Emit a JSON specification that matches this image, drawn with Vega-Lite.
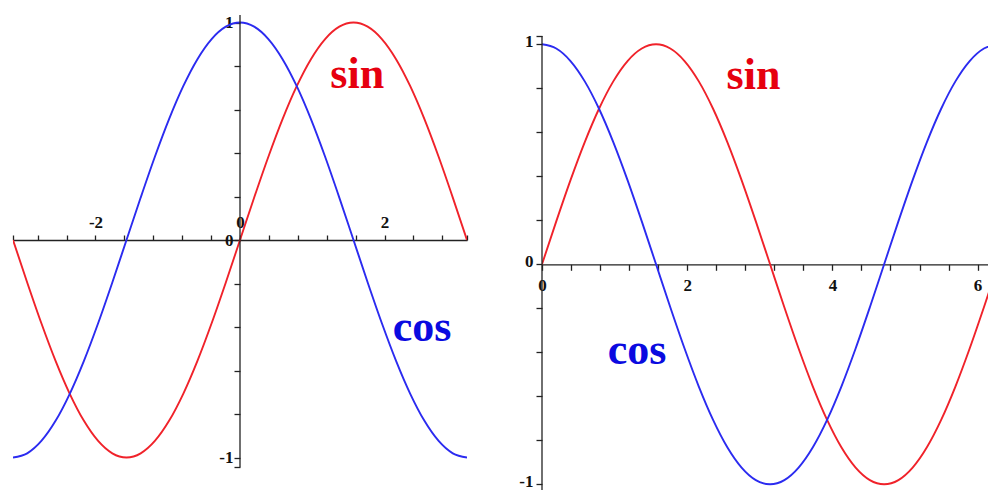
{
  "$schema": "https://vega.github.io/schema/vega-lite/v6.json",
  "background": "white",
  "padding": {"left": 12, "top": 13, "right": 0, "bottom": 0},
  "bounds": "flush",
  "spacing": 75,
  "datasets": {
    "wave": [
      {"x": -3.1416, "sin": 0, "cos": -1},
      {"x": -2.9452, "sin": -0.1951, "cos": -0.9808},
      {"x": -2.7489, "sin": -0.3827, "cos": -0.9239},
      {"x": -2.5525, "sin": -0.5556, "cos": -0.8315},
      {"x": -2.3562, "sin": -0.7071, "cos": -0.7071},
      {"x": -2.1598, "sin": -0.8315, "cos": -0.5556},
      {"x": -1.9635, "sin": -0.9239, "cos": -0.3827},
      {"x": -1.7671, "sin": -0.9808, "cos": -0.1951},
      {"x": -1.5708, "sin": -1, "cos": 0},
      {"x": -1.3744, "sin": -0.9808, "cos": 0.1951},
      {"x": -1.1781, "sin": -0.9239, "cos": 0.3827},
      {"x": -0.9817, "sin": -0.8315, "cos": 0.5556},
      {"x": -0.7854, "sin": -0.7071, "cos": 0.7071},
      {"x": -0.589, "sin": -0.5556, "cos": 0.8315},
      {"x": -0.3927, "sin": -0.3827, "cos": 0.9239},
      {"x": -0.1963, "sin": -0.1951, "cos": 0.9808},
      {"x": 0, "sin": 0, "cos": 1},
      {"x": 0.1963, "sin": 0.1951, "cos": 0.9808},
      {"x": 0.3927, "sin": 0.3827, "cos": 0.9239},
      {"x": 0.589, "sin": 0.5556, "cos": 0.8315},
      {"x": 0.7854, "sin": 0.7071, "cos": 0.7071},
      {"x": 0.9817, "sin": 0.8315, "cos": 0.5556},
      {"x": 1.1781, "sin": 0.9239, "cos": 0.3827},
      {"x": 1.3744, "sin": 0.9808, "cos": 0.1951},
      {"x": 1.5708, "sin": 1, "cos": 0},
      {"x": 1.7671, "sin": 0.9808, "cos": -0.1951},
      {"x": 1.9635, "sin": 0.9239, "cos": -0.3827},
      {"x": 2.1598, "sin": 0.8315, "cos": -0.5556},
      {"x": 2.3562, "sin": 0.7071, "cos": -0.7071},
      {"x": 2.5525, "sin": 0.5556, "cos": -0.8315},
      {"x": 2.7489, "sin": 0.3827, "cos": -0.9239},
      {"x": 2.9452, "sin": 0.1951, "cos": -0.9808},
      {"x": 3.1416, "sin": 0, "cos": -1},
      {"x": 3.3379, "sin": -0.1951, "cos": -0.9808},
      {"x": 3.5343, "sin": -0.3827, "cos": -0.9239},
      {"x": 3.7306, "sin": -0.5556, "cos": -0.8315},
      {"x": 3.927, "sin": -0.7071, "cos": -0.7071},
      {"x": 4.1233, "sin": -0.8315, "cos": -0.5556},
      {"x": 4.3197, "sin": -0.9239, "cos": -0.3827},
      {"x": 4.516, "sin": -0.9808, "cos": -0.1951},
      {"x": 4.7124, "sin": -1, "cos": 0},
      {"x": 4.9087, "sin": -0.9808, "cos": 0.1951},
      {"x": 5.1051, "sin": -0.9239, "cos": 0.3827},
      {"x": 5.3014, "sin": -0.8315, "cos": 0.5556},
      {"x": 5.4978, "sin": -0.7071, "cos": 0.7071},
      {"x": 5.6941, "sin": -0.5556, "cos": 0.8315},
      {"x": 5.8905, "sin": -0.3827, "cos": 0.9239},
      {"x": 6.0868, "sin": -0.1951, "cos": 0.9808},
      {"x": 6.2832, "sin": 0, "cos": 1}
    ],
    "labels": [
      {"panel": "L", "fn": "sin", "x": 1.623, "y": 0.7},
      {"panel": "L", "fn": "cos", "x": 2.519, "y": -0.464},
      {"panel": "R", "fn": "sin", "x": 2.913, "y": 0.797},
      {"panel": "R", "fn": "cos", "x": 1.309, "y": -0.453}
    ]
  },
  "config": {
    "view": {"stroke": null},
    "axis": {
      "labelFont": "Liberation Serif",
      "labelFontWeight": "bold",
      "labelFontSize": 17,
      "labelColor": "#111111",
      "tickColor": "#222222",
      "domainColor": "#222222",
      "tickWidth": 1.3,
      "domainWidth": 1.3,
      "grid": false,
      "labelOverlap": false,
      "labelFlush": false,
      "labelBound": false,
      "title": null
    }
  },
  "resolve": {"scale": {"x": "independent", "y": "independent", "color": "independent"}},
  "hconcat": [
    {
      "width": 454,
      "height": 475,
      "resolve": {"scale": {"color": "independent"}},
      "layer": [
        {
          "data": {"name": "wave"},
          "transform": [
            {"filter": "datum.x >= -3.15 && datum.x <= 3.15"},
            {"fold": ["sin", "cos"], "as": ["fn", "val"]}
          ],
          "mark": {"type": "line", "interpolate": "monotone", "strokeWidth": 1.9, "clip": true},
          "encoding": {
            "x": {
              "field": "x", "type": "quantitative",
              "scale": {"domain": [-3.1416, 3.1416], "nice": false, "zero": false},
              "axis": {
                "orient": "top", "offset": -225, "tickSize": 5, "labelPadding": 4,
                "labelOverlap": false, "tickCount": 20,
                "values": [-3.1416, -2.8, -2.4, -2, -1.6, -1.2, -0.8, -0.4, 0, 0.4, 0.8, 1.2, 1.6, 2, 2.4, 2.8, 3.1416],
                "labelExpr": "abs(datum.value + 2) < 0.001 ? '-2' : abs(datum.value) < 0.001 ? '0' : abs(datum.value - 2) < 0.001 ? '2' : ''"
              }
            },
            "y": {
              "field": "val", "type": "quantitative",
              "scale": {"domain": [-1.1494, 1.0345], "nice": false, "zero": false},
              "axis": {
                "orient": "left", "offset": -227, "domain": false, "tickSize": 6, "labelPadding": 1,
                "labelOverlap": false, "tickCount": 20,
                "values": [-1.045, -1, -0.8, -0.6, -0.4, -0.2, 0, 0.2, 0.4, 0.6, 0.8, 1, 1.035],
                "labelExpr": "abs(datum.value - 1) < 0.001 ? '1' : abs(datum.value) < 0.001 ? '0' : abs(datum.value + 1) < 0.001 ? '-1' : ''"
              }
            },
            "color": {
              "field": "fn", "type": "nominal",
              "scale": {"domain": ["sin", "cos"], "range": ["#f0222a", "#2b2bf0"]},
              "legend": null
            }
          }
        },
        {
          "data": {"values": [{}]},
          "mark": {"type": "rule", "color": "#222222", "strokeWidth": 1.3},
          "encoding": {
            "x": {"datum": 0, "type": "quantitative"},
            "y": {"datum": -1.045, "type": "quantitative"},
            "y2": {"datum": 1.035}
          }
        },
        {
          "data": {"name": "labels"},
          "transform": [{"filter": "datum.panel == 'L'"}],
          "mark": {"type": "text", "font": "Liberation Serif", "fontWeight": "bold", "fontSize": 44, "align": "center", "baseline": "alphabetic"},
          "encoding": {
            "x": {"field": "x", "type": "quantitative"},
            "y": {"field": "y", "type": "quantitative"},
            "text": {"field": "fn"},
            "color": {
              "field": "fn", "type": "nominal",
              "scale": {"domain": ["sin", "cos"], "range": ["#e6000f", "#0a0ae0"]},
              "legend": null
            }
          }
        }
      ]
    },
    {
      "width": 446,
      "height": 475,
      "resolve": {"scale": {"color": "independent"}},
      "layer": [
        {
          "data": {"name": "wave"},
          "transform": [
            {"filter": "datum.x >= -0.01 && datum.x <= 6.3"},
            {"fold": ["sin", "cos"], "as": ["fn", "val"]}
          ],
          "mark": {"type": "line", "interpolate": "monotone", "strokeWidth": 1.9, "clip": true},
          "encoding": {
            "x": {
              "field": "x", "type": "quantitative",
              "scale": {"domain": [0, 6.143], "nice": false, "zero": false},
              "axis": {
                "orient": "bottom", "offset": -225.7, "tickSize": 6, "labelPadding": 7,
                "labelOverlap": false, "tickCount": 20,
                "values": [0, 0.4, 0.8, 1.2, 1.6, 2, 2.4, 2.8, 3.2, 3.6, 4, 4.4, 4.8, 5.2, 5.6, 6],
                "labelExpr": "abs(datum.value) < 0.001 ? '0' : abs(datum.value - 2) < 0.001 ? '2' : abs(datum.value - 4) < 0.001 ? '4' : abs(datum.value - 6) < 0.001 ? '6' : ''"
              }
            },
            "y": {
              "field": "val", "type": "quantitative",
              "scale": {"domain": [-1.0259, 1.1332], "nice": false, "zero": false},
              "axis": {
                "orient": "left", "offset": 0, "domain": false, "tickSize": 6, "labelPadding": 3,
                "labelOverlap": false, "tickCount": 20, "labelOffset": -3,
                "values": [-1, -0.8, -0.6, -0.4, -0.2, 0, 0.2, 0.4, 0.6, 0.8, 1, 1.0375],
                "labelExpr": "abs(datum.value - 1) < 0.001 ? '1' : abs(datum.value) < 0.001 ? '0' : abs(datum.value + 1) < 0.001 ? '-1' : ''"
              }
            },
            "color": {
              "field": "fn", "type": "nominal",
              "scale": {"domain": ["sin", "cos"], "range": ["#f0222a", "#2b2bf0"]},
              "legend": null
            }
          }
        },
        {
          "data": {"values": [{}]},
          "mark": {"type": "rule", "color": "#222222", "strokeWidth": 1.3},
          "encoding": {
            "x": {"datum": 0, "type": "quantitative"},
            "y": {"datum": -1.0259, "type": "quantitative"},
            "y2": {"datum": 1.0375}
          }
        },
        {
          "data": {"name": "labels"},
          "transform": [{"filter": "datum.panel == 'R'"}],
          "mark": {"type": "text", "font": "Liberation Serif", "fontWeight": "bold", "fontSize": 44, "align": "center", "baseline": "alphabetic"},
          "encoding": {
            "x": {"field": "x", "type": "quantitative"},
            "y": {"field": "y", "type": "quantitative"},
            "text": {"field": "fn"},
            "color": {
              "field": "fn", "type": "nominal",
              "scale": {"domain": ["sin", "cos"], "range": ["#e6000f", "#0a0ae0"]},
              "legend": null
            }
          }
        }
      ]
    }
  ]
}
